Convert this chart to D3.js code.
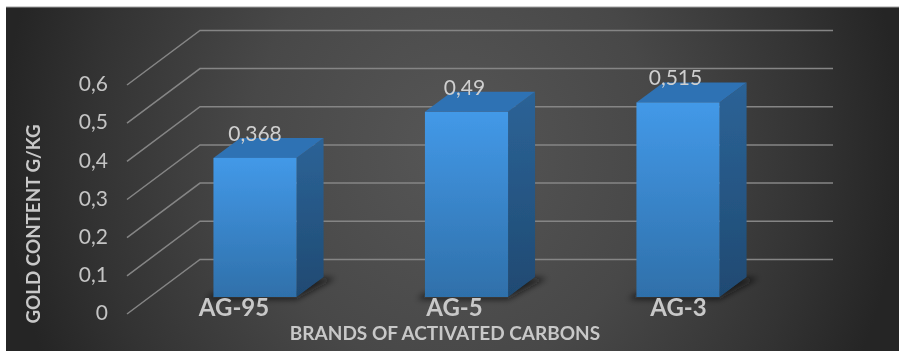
<!DOCTYPE html>
<html>
<head>
<meta charset="utf-8">
<script src="https://cdn.jsdelivr.net/npm/d3@7"></script>
<style>
html,body{margin:0;padding:0;background:#fff}
svg{display:block}
text{font-family:Lato,"Open Sans",sans-serif}
</style>
</head>
<body>
<div id="chart"></div>
<script>
const categories = ["AG-95", "AG-5", "AG-3"];
const goldContent = [0.368, 0.49, 0.515];
const dataLabels = ["0,368", "0,49", "0,515"];
const yTicks = [0, 0.1, 0.2, 0.3, 0.4, 0.5, 0.6];
const yTitle = "GOLD CONTENT G/KG";
const xTitle = "BRANDS OF ACTIVATED CARBONS";

const W = 899, H = 351;
const svg = d3.select("#chart").append("svg").attr("width", W).attr("height", H);
const defs = svg.append("defs");

const bgGrad = defs.append("radialGradient").attr("id", "bg")
  .attr("gradientUnits", "userSpaceOnUse")
  .attr("cx", 452).attr("cy", 150).attr("r", 450)
  .attr("gradientTransform", "translate(452 150) scale(1 1.1) translate(-452 -150)");
[[0, "#565656"], [0.45, "#484848"], [0.8, "#333333"], [1, "#252525"]].forEach(s =>
  bgGrad.append("stop").attr("offset", s[0]).attr("stop-color", s[1]));

function vGrad(id, top, bottom) {
  const g = defs.append("linearGradient").attr("id", id).attr("x1", 0).attr("y1", 0).attr("x2", 0).attr("y2", 1);
  g.append("stop").attr("offset", 0).attr("stop-color", top);
  g.append("stop").attr("offset", 1).attr("stop-color", bottom);
}
vGrad("front", "#4399e8", "#2f70aa");
vGrad("side", "#2c6397", "#1f4a72");
defs.append("filter").attr("id", "soft").append("feGaussianBlur").attr("stdDeviation", 0.55);
defs.append("filter").attr("id", "softText").append("feGaussianBlur").attr("stdDeviation", 0.4);
defs.append("filter").attr("id", "shadow").attr("x", "-30%").attr("y", "-100%").attr("width", "160%").attr("height", "300%")
  .append("feGaussianBlur").attr("stdDeviation", 3);
const ts = defs.append("filter").attr("id", "textShadow");
ts.append("feDropShadow").attr("dx", 1).attr("dy", 1).attr("stdDeviation", 1).attr("flood-color", "#000").attr("flood-opacity", 0.7);

svg.append("rect").attr("x", 6).attr("y", 7).attr("width", W - 6).attr("height", H - 7).attr("fill", "url(#bg)");
svg.append("line").attr("x1", 6).attr("x2", W).attr("y1", 7).attr("y2", 7).attr("stroke", "#a0a0a0").attr("stroke-width", 1);

const y = d3.scaleLinear().domain([0, 0.6]).range([314, 85]);
const wall = { dx: 73, dy: -54.6, right: 833, left: 127 };
const bar = { base: 297, dx: 27, dy: -20 };
const x = d3.scaleBand().domain(categories).range([150, 783]).paddingInner(0.607).paddingOuter(0.3);
const h = v => (y(0) - y(v)) * 0.99;

const plot = svg.append("g").attr("filter", "url(#soft)");

const grid = plot.append("g").attr("fill", "none").attr("stroke", "#858585").attr("stroke-width", 1.5);
grid.selectAll("path").data(yTicks).join("path")
  .attr("d", t => {
    const p = d3.path();
    p.moveTo(wall.left, y(t));
    p.lineTo(wall.left + wall.dx, y(t) + wall.dy);
    p.lineTo(wall.right, y(t) + wall.dy);
    return p.toString();
  });

const bars = plot.selectAll("g.bar").data(categories.map((c, i) => ({ c, v: goldContent[i] }))).join("g").attr("class", "bar");

bars.append("path").attr("filter", "url(#shadow)").attr("fill", "#111").attr("opacity", 0.75)
  .attr("d", d => {
    const l = x(d.c), r = l + x.bandwidth(), b = bar.base + 1;
    return d3.line()([[l - 8, b + 1], [r, b + 1], [r + bar.dx + 12, b + bar.dy], [r + 10, b + bar.dy], [r, b - 4], [l, b - 4]]);
  });

bars.append("path").attr("fill", "url(#side)")
  .attr("d", d => {
    const r = x(d.c) + x.bandwidth(), b = bar.base, t = b - h(d.v);
    return d3.line()([[r, b], [r, t], [r + bar.dx, t + bar.dy], [r + bar.dx, b + bar.dy]]) + "Z";
  });
bars.append("path").attr("fill", "#2f72b4")
  .attr("d", d => {
    const l = x(d.c), r = l + x.bandwidth(), t = bar.base - h(d.v);
    return d3.line()([[l, t], [r, t], [r + bar.dx, t + bar.dy], [l + bar.dx, t + bar.dy]]) + "Z";
  });
bars.append("rect").attr("fill", "url(#front)")
  .attr("x", d => x(d.c)).attr("width", x.bandwidth())
  .attr("y", d => bar.base - h(d.v)).attr("height", d => h(d.v));

const texts = svg.append("g").attr("filter", "url(#softText)");

texts.append("g").selectAll("text").data(yTicks).join("text")
  .attr("x", 108).attr("y", t => y(t) + 1)
  .attr("text-anchor", "end").attr("dominant-baseline", "middle")
  .attr("font-size", 21).attr("fill", "#c4c4c4")
  .text(t => t === 0 ? "0" : String(t).replace(".", ","));

const labelNudge = [0, -2, -2.5];
texts.append("g").selectAll("text").data(categories).join("text")
  .attr("x", (c, i) => x(c) + x.bandwidth() / 2 + labelNudge[i])
  .attr("y", (c, i) => bar.base - h(goldContent[i]) - 17)
  .attr("text-anchor", "middle").attr("font-size", 21).attr("fill", "#cfcfcf")
  .text((c, i) => dataLabels[i]);

const catNudge = [-21, -12, 0.5];
texts.append("g").selectAll("text").data(categories).join("text")
  .attr("x", (c, i) => x(c) + x.bandwidth() / 2 + catNudge[i])
  .attr("y", 315.5)
  .attr("text-anchor", "middle").attr("font-size", 24).attr("font-weight", 700)
  .attr("fill", "#c8c8c8")
  .text(c => c);

texts.append("text").attr("x", 445).attr("y", 340).attr("text-anchor", "middle")
  .attr("font-size", 19).attr("font-weight", 700).attr("fill", "#c8c8c8").text(xTitle);
texts.append("text").attr("transform", "translate(40,224) rotate(-90)").attr("text-anchor", "middle")
  .attr("font-size", 18.8).attr("font-weight", 700).attr("fill", "#c8c8c8").text(yTitle);
</script>
</body>
</html>
